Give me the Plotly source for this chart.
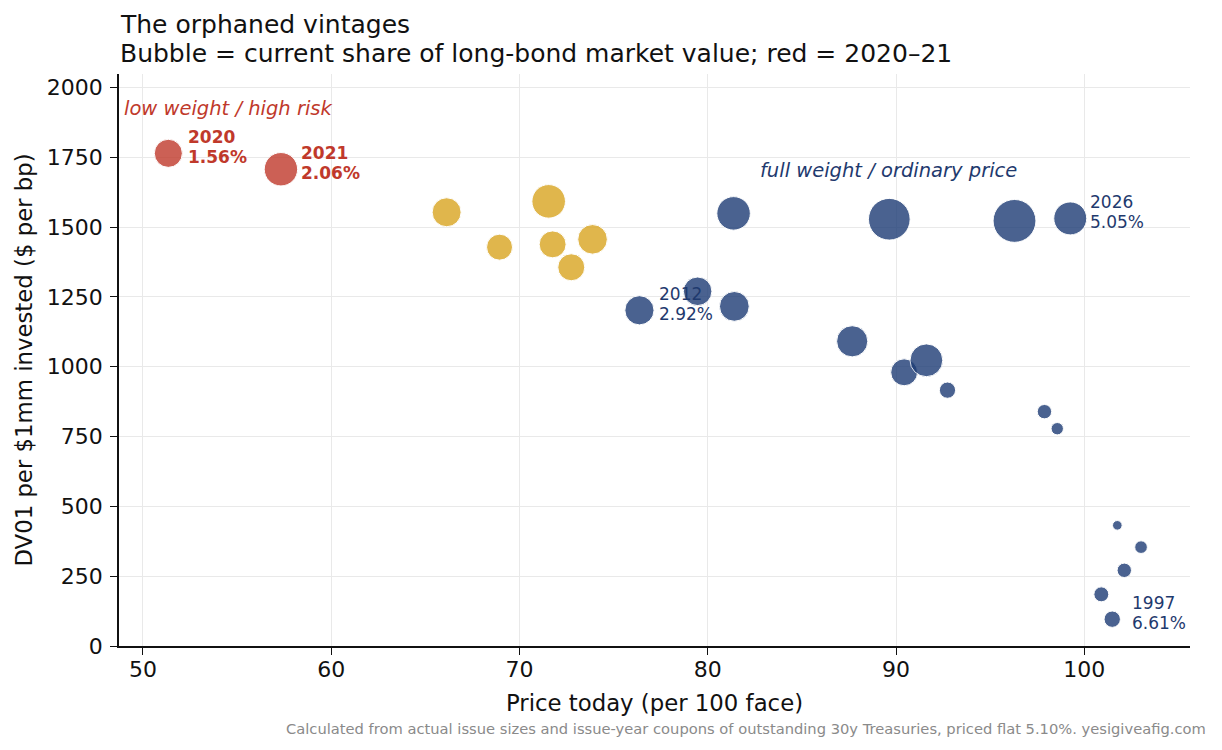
import plotly.graph_objects as go

# ---- data ----
price = [51.35, 57.33, 66.13, 68.94, 71.55, 71.76, 72.75, 73.88, 76.37, 79.46,
         81.37, 81.41, 87.67, 89.64, 90.43, 91.61, 92.73, 96.29, 99.25, 97.88,
         98.56, 101.75, 103.01, 102.12, 100.90, 101.48]
dv01 = [1764, 1707, 1553, 1428, 1592, 1438, 1356, 1456, 1202, 1270,
        1549, 1216, 1091, 1528, 980, 1023, 916, 1522, 1531, 839,
        778, 432, 354, 271, 185, 96]
share = [4.03, 5.70, 4.29, 3.45, 5.76, 3.70, 3.72, 4.48, 4.35, 4.17,
         5.74, 4.52, 4.97, 8.89, 3.70, 5.50, 1.35, 9.40, 5.56, 1.06,
         0.78, 0.47, 0.82, 1.06, 1.14, 1.37]
group = ["red", "red"] + ["gold"] * 6 + ["navy"] * 18

label_idx = [0, 1, 8, 18, 25]
label_year = ["2020", "2021", "2012", "2026", "1997"]
label_coupon = ["1.56%", "2.06%", "2.92%", "5.05%", "6.61%"]

x_ticks = [50, 60, 70, 80, 90, 100]
y_ticks = [0, 250, 500, 750, 1000, 1250, 1500, 1750, 2000]

# ---- styling ----
FONT = "DejaVu Sans"
RED = "#c0392b"
GOLD = "#d9a520"
NAVY = "#1f3a6e"
fill = {"red": RED, "gold": GOLD, "navy": "#1d3c75"}
W, H = 1222, 750
L, R, T, B = 119, 32, 74, 104
plot_h = H - T - B

fig = go.Figure()
fig.add_trace(go.Scatter(
    x=price, y=dv01, mode="markers",
    marker=dict(size=share, sizemode="area", sizeref=2 / (4 * 48.92),
                color=[fill[g] for g in group], opacity=0.8,
                line=dict(color="white", width=1)),
    hoverinfo="skip", showlegend=False,
))

annotations = []
# bubble labels (year / coupon), offset from their bubble
for i, yr, cp in zip(label_idx, label_year, label_coupon):
    is_red = group[i] == "red"
    col = RED if is_red else NAVY
    txt_yr = f"<b>{yr}</b>" if is_red else yr
    txt_cp = f"<b>{cp}</b>" if is_red else cp
    for t, ys in ((txt_yr, 16), (txt_cp, -4)):
        annotations.append(dict(
            x=price[i], y=dv01[i], xref="x", yref="y", text=t, showarrow=False,
            xanchor="left", yanchor="middle", xshift=19, yshift=ys,
            font=dict(family=FONT, size=17, color=col), borderpad=0))

# region notes
annotations.append(dict(x=48.94, y=1925, xref="x", yref="y",
                        text="<i>low weight / high risk</i>", showarrow=False,
                        xanchor="left", yanchor="middle", borderpad=0,
                        font=dict(family=FONT, size=19.5, color=RED)))
annotations.append(dict(x=82.71, y=1702, xref="x", yref="y",
                        text="<i>full weight / ordinary price</i>", showarrow=False,
                        xanchor="left", yanchor="middle", borderpad=0,
                        font=dict(family=FONT, size=19.5, color=NAVY)))

# titles
annotations.append(dict(x=0, y=1 + (T - 24.4) / plot_h, xref="paper", yref="paper",
                        text="The orphaned vintages", showarrow=False,
                        xanchor="left", yanchor="middle", borderpad=0,
                        font=dict(family=FONT, size=25, color="#111111")))
annotations.append(dict(x=0, y=1 + (T - 53) / plot_h, xref="paper", yref="paper",
                        text="Bubble = current share of long-bond market value; red = 2020–21",
                        showarrow=False, xanchor="left", yanchor="middle", borderpad=0,
                        font=dict(family=FONT, size=25, color="#111111")))
# footer
annotations.append(dict(x=1, y=-(728.5 - (H - B)) / plot_h, xref="paper", yref="paper",
                        text="Calculated from actual issue sizes and issue-year coupons of outstanding 30y Treasuries, priced flat 5.10%. yesigiveafig.com",
                        showarrow=False, xanchor="right", yanchor="middle", xshift=17,
                        borderpad=0, font=dict(family=FONT, size=14.7, color="#8a8a8a")))

axis_common = dict(
    showgrid=True, gridcolor="#e9e9e9", gridwidth=1.2, zeroline=False,
    showline=True, linecolor="#111111", linewidth=1.6,
    ticks="outside", ticklen=7, tickwidth=1.3, tickcolor="#111111",
    tickfont=dict(family=FONT, size=22, color="#111111"),
    mirror=False,
)

fig.update_layout(
    width=W, height=H,
    margin=dict(l=L, r=R, t=T, b=B, pad=0),
    paper_bgcolor="white", plot_bgcolor="white",
    font=dict(family=FONT, color="#111111"),
    annotations=annotations,
    xaxis=dict(range=[48.73, 105.61], tickvals=x_ticks, ticklabelstandoff=-4,
               title=dict(text="Price today (per 100 face)", standoff=14,
                          font=dict(family=FONT, size=22.8, color="#111111")),
               **axis_common),
    yaxis=dict(range=[0, 2048], tickvals=y_ticks, ticklabelstandoff=3,
               title=dict(text="DV01 per $1mm invested ($ per bp)", standoff=8,
                          font=dict(family=FONT, size=22.8, color="#111111")),
               **axis_common),
)

fig.write_html("out.html", config={"displayModeBar": False},
               post_script="document.body.style.margin='0px';")
